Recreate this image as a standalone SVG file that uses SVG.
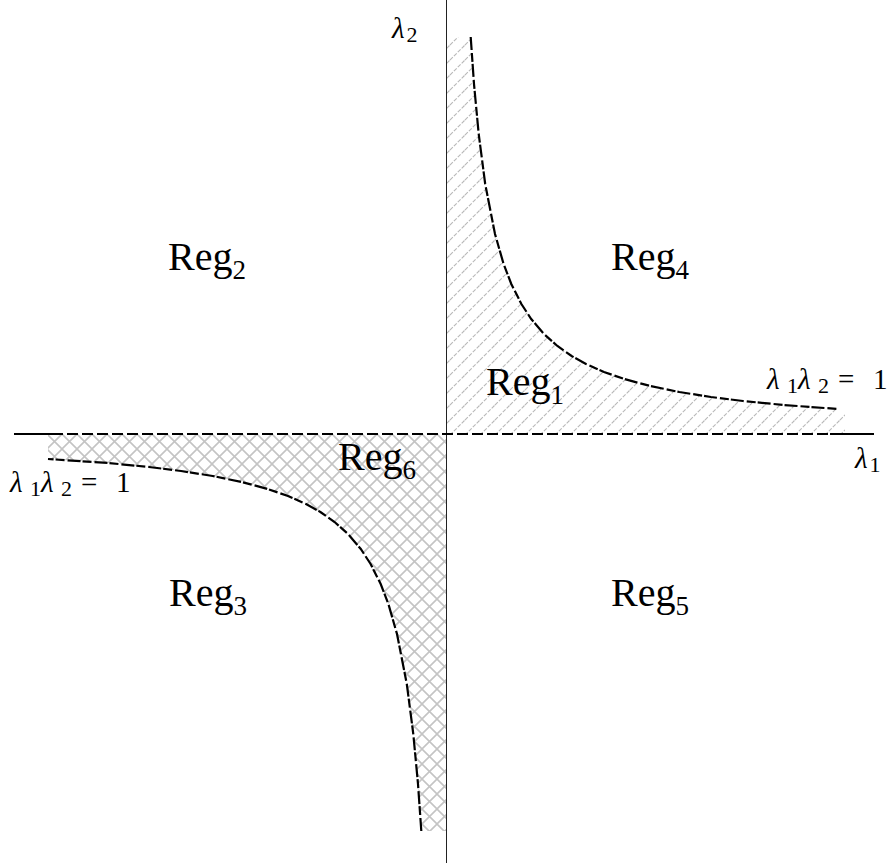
<svg xmlns="http://www.w3.org/2000/svg" width="894" height="867" viewBox="0 0 894 867">
<style>
.reg{font-family:"Liberation Serif","Times New Roman",serif;font-size:40px;fill:#000}
.sub{font-size:27px}
.lam{font-family:"Liberation Serif","Times New Roman",serif;font-size:29px;fill:#000}
.it{font-style:italic}
.ls{font-size:22px}
.curve{fill:none;stroke:#000;stroke-width:2.2;stroke-dasharray:13 3 9 2}
</style>
<defs>
<pattern id="hatch" width="15" height="15" patternUnits="userSpaceOnUse">
<path d="M-4,4 L4,-4 M0,15 L15,0 M11,19 L19,11" stroke="#b8b8b8" stroke-width="1.1" stroke-dasharray="4 1.5"/>
</pattern>
<pattern id="cross" width="15" height="15" patternUnits="userSpaceOnUse" x="2" y="434">
<path d="M0,0 L15,15 M15,0 L0,15" stroke="#c4c4c4" stroke-width="1.6"/>
</pattern>
</defs>
<g id="region-1-fill">
<path d="M446,37 L470.7,37 L474,84 L478.7,134 L485.2,184 L495,234 L503.6,264 L511.3,284 L521.4,304 L531.2,319 L544,334 L557.4,346 L571.6,356 L586,364 L604,372 L624.2,379 L650.2,386 L679.3,392 L710.9,397 L743,401 L783.9,405 L838,409 L845,409 L845,434 L446,434 Z" fill="url(#hatch)"/>
</g>
<g id="region-6-fill">
<path d="M48,434 L446,434 L446,831 L421.3,831 L418,784 L413.3,734 L406.8,684 L397,634 L388.4,604 L380.7,584 L370.6,564 L360.8,549 L348,534 L334.6,522 L320.4,512 L306,504 L288,496 L267.8,489 L241.8,482 L212.7,476 L181.1,471 L149,467 L108.1,463 L48,459 Z" fill="url(#cross)"/>
</g>
<g id="connectors">
<line id="axis-l2" x1="446.5" y1="0" x2="446.5" y2="863" stroke="#222" stroke-width="1"/>
<line x1="14" y1="434" x2="52" y2="434" stroke="#000" stroke-width="2.2"/>
<line x1="52" y1="434" x2="830" y2="434" stroke="#000" stroke-width="2.2" stroke-dasharray="11 4"/>
<line x1="830" y1="434" x2="874" y2="434" stroke="#000" stroke-width="2.2"/>
<polyline id="curve-upper" class="curve" points="470.7,37 474,84 478.7,134 485.2,184 495,234 503.6,264 511.3,284 521.4,304 531.2,319 544,334 557.4,346 571.6,356 586,364 604,372 624.2,379 650.2,386 679.3,392 710.9,397 743,401 783.9,405 838,409"/>
<polyline id="curve-lower" class="curve" points="421.3,831 418,784 413.3,734 406.8,684 397,634 388.4,604 380.7,584 370.6,564 360.8,549 348,534 334.6,522 320.4,512 306,504 288,496 267.8,489 241.8,482 212.7,476 181.1,471 149,467 108.1,463 48,459"/>
</g>
<g id="reg1"><text class="reg" x="486" y="395">Reg<tspan class="sub" dy="9">1</tspan></text></g>
<g id="reg2"><text class="reg" x="168" y="270">Reg<tspan class="sub" dy="9">2</tspan></text></g>
<g id="reg3"><text class="reg" x="169" y="606">Reg<tspan class="sub" dy="9">3</tspan></text></g>
<g id="reg4"><text class="reg" x="611" y="270">Reg<tspan class="sub" dy="9">4</tspan></text></g>
<g id="reg5"><text class="reg" x="611" y="606">Reg<tspan class="sub" dy="9">5</tspan></text></g>
<g id="reg6"><text class="reg" x="338" y="470">Reg<tspan class="sub" dy="9">6</tspan></text></g>
<g id="label-lambda2"><text class="lam" x="392" y="38"><tspan class="it">λ</tspan><tspan class="ls" dx="2" dy="4">2</tspan></text></g>
<g id="label-lambda1"><text class="lam" x="855" y="468"><tspan class="it">λ</tspan><tspan class="ls" dx="2" dy="4">1</tspan></text></g>
<g id="label-hyp-upper"><text class="lam" y="389"><tspan class="it" x="767">λ</tspan><tspan class="ls" x="787" dy="4">1</tspan><tspan class="it" x="798" dy="-4">λ</tspan><tspan class="ls" x="818" dy="4">2</tspan><tspan x="838" dy="-4">=</tspan><tspan x="873">1</tspan></text></g>
<g id="label-hyp-lower"><text class="lam" y="492"><tspan class="it" x="10">λ</tspan><tspan class="ls" x="30" dy="4">1</tspan><tspan class="it" x="41" dy="-4">λ</tspan><tspan class="ls" x="61" dy="4">2</tspan><tspan x="81" dy="-4">=</tspan><tspan x="116">1</tspan></text></g>
</svg>
